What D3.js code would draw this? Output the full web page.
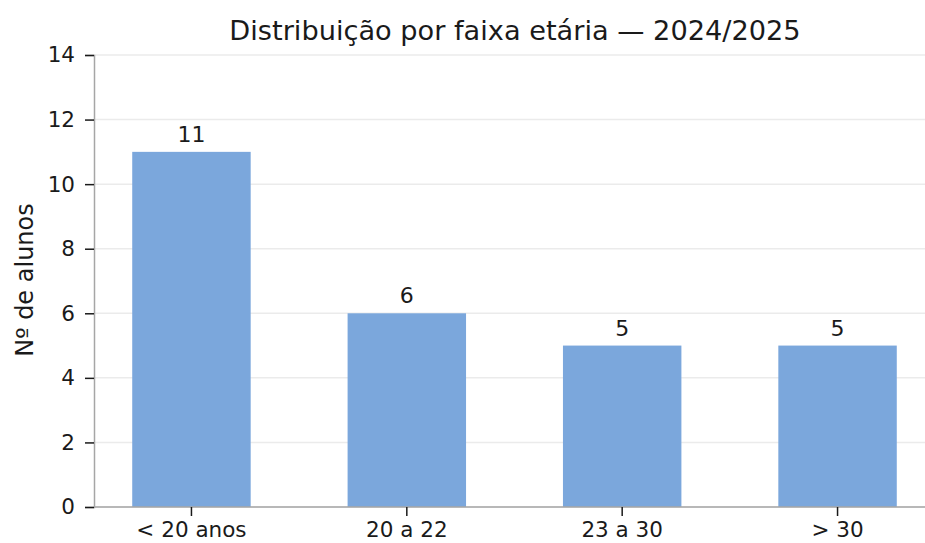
<!DOCTYPE html>
<html>
<head>
<meta charset="utf-8">
<script src="https://cdn.jsdelivr.net/npm/d3@7"></script>
<style>
  body { margin: 0; background: #fff; }
  text { font-family: "DejaVu Sans", sans-serif; fill: #1a1a1a; }
</style>
</head>
<body>
<div id="chart"></div>
<script>
// Faixas etárias e número de alunos
const categories = ['< 20 anos', '20 a 22', '23 a 30', '> 30'];
const counts = [11, 6, 5, 5];
const yTicks = [0, 2, 4, 6, 8, 10, 12, 14];

const width = 925;
const height = 543;
const margin = { top: 55, right: -10, bottom: 36, left: 94 };

const svg = d3.select('#chart')
    .append('svg')
    .attr('width', width)
    .attr('height', height);

const x = d3.scaleBand()
    .domain(categories)
    .range([margin.left, width - margin.right])
    .paddingInner(0.45)
    .paddingOuter(0.1775);

const y = d3.scaleLinear()
    .domain([0, 14])
    .range([height - margin.bottom, margin.top]);

// Gridlines
svg.append('g')
    .selectAll('line')
    .data(yTicks)
    .enter()
    .append('line')
    .attr('x1', margin.left)
    .attr('x2', width)
    .attr('y1', d => y(d))
    .attr('y2', d => y(d))
    .attr('stroke', '#ebebeb')
    .attr('stroke-width', 1.5);

// Bars
svg.append('g')
    .selectAll('rect')
    .data(counts)
    .enter()
    .append('rect')
    .attr('x', (d, i) => x(categories[i]))
    .attr('y', d => y(d))
    .attr('width', x.bandwidth())
    .attr('height', d => y(0) - y(d))
    .attr('fill', '#7ba7dc');

// Value labels
svg.append('g')
    .selectAll('text')
    .data(counts)
    .enter()
    .append('text')
    .attr('x', (d, i) => x(categories[i]) + x.bandwidth() / 2)
    .attr('y', d => y(d) - 10)
    .attr('text-anchor', 'middle')
    .style('font-size', '22px')
    .text(d => d);

// Axes
const yAxis = svg.append('g')
    .attr('transform', `translate(${margin.left},0)`)
    .call(d3.axisLeft(y).tickValues(yTicks).tickSize(9).tickPadding(10));

const xAxis = svg.append('g')
    .attr('transform', `translate(0,${y(0)})`)
    .call(d3.axisBottom(x).tickSize(9).tickPadding(6));

[yAxis, xAxis].forEach(ax => {
    ax.select('.domain').attr('stroke', '#a6a6a6').attr('stroke-width', 1.5);
    ax.selectAll('.tick line').attr('stroke', '#1a1a1a').attr('stroke-width', 1.5);
    ax.selectAll('.tick text')
        .style('font-size', '21.5px')
        .style('font-family', '"DejaVu Sans", sans-serif')
        .attr('fill', '#1a1a1a');
});
xAxis.select('.domain').attr('d', `M${margin.left},0H${width}`);

// Title
svg.append('text')
    .attr('x', 515)
    .attr('y', 40)
    .attr('text-anchor', 'middle')
    .style('font-size', '27.2px')
    .text('Distribuição por faixa etária — 2024/2025');

// Y label
svg.append('text')
    .attr('transform', `translate(33,280) rotate(-90)`)
    .attr('text-anchor', 'middle')
    .style('font-size', '24px')
    .text('Nº de alunos');
</script>
</body>
</html>
